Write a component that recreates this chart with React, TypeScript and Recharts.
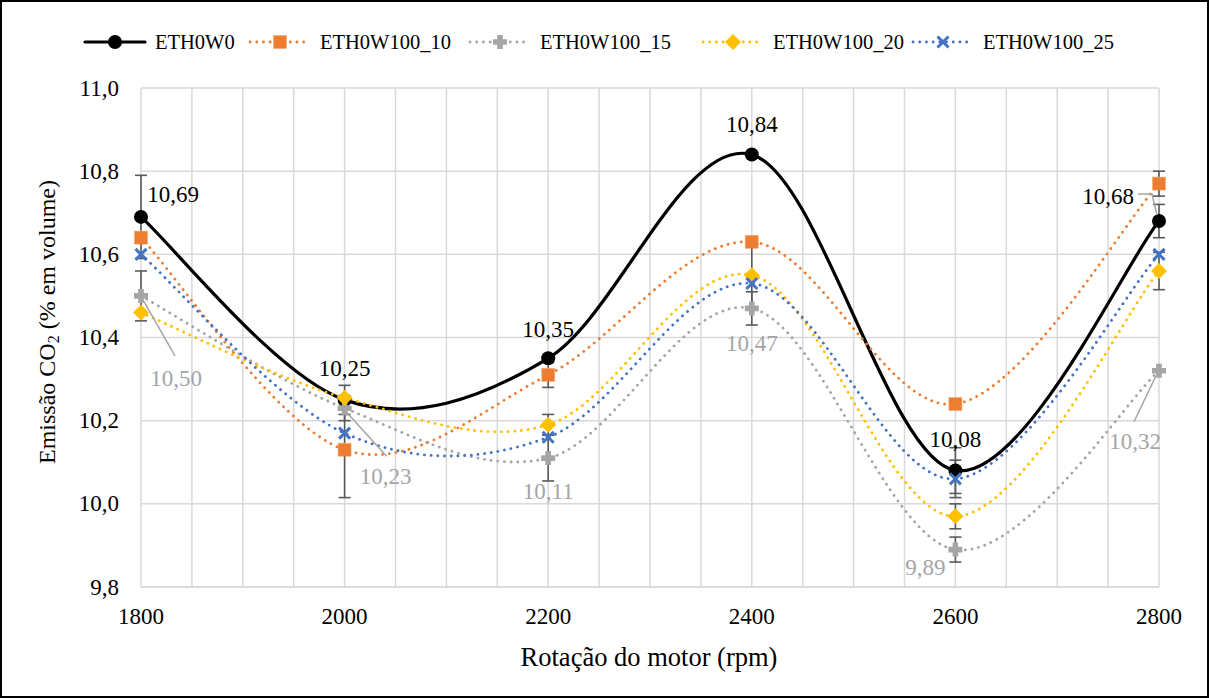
import React from 'react';
import { LineChart, Line, XAxis, YAxis, CartesianGrid, ErrorBar, LabelList } from 'recharts';

// Engine speed (rpm)
const rpm = [1800, 2000, 2200, 2400, 2600, 2800];

// CO2 emission (% by volume) per fuel blend
const eth0w0 = [10.69, 10.25, 10.35, 10.84, 10.08, 10.68];
const eth0w100_10 = [10.64, 10.13, 10.31, 10.63, 10.24, 10.77];
const eth0w100_15 = [10.5, 10.23, 10.11, 10.47, 9.89, 10.32];
const eth0w100_20 = [10.46, 10.255, 10.19, 10.55, 9.97, 10.56];
const eth0w100_25 = [10.6, 10.17, 10.16, 10.53, 10.06, 10.6];

// Error bar half-widths (null = no bar)
const eth0w0Err = [0.1, 0.035, null, null, 0.055, 0.04];
const eth0w100_10Err = [null, 0.115, 0.03, null, null, 0.03];
const eth0w100_15Err = [0.06, 0.03, 0.055, 0.04, 0.03, null];
const eth0w100_20Err = [null, null, 0.025, 0.08, 0.03, 0.045];
const eth0w100_25Err = [null, null, null, null, 0.045, null];

const seriesNames = ['ETH0W0', 'ETH0W100_10', 'ETH0W100_15', 'ETH0W100_20', 'ETH0W100_25'];

const xTicks = [1800, 1850, 1900, 1950, 2000, 2050, 2100, 2150, 2200, 2250, 2300, 2350, 2400, 2450, 2500, 2550, 2600, 2650, 2700, 2750, 2800];
const yTicks = [9.8, 10.0, 10.2, 10.4, 10.6, 10.8, 11.0];

const data = rpm.map((r, i) => ({
  rpm: r,
  s0: eth0w0[i], e0: eth0w0Err[i],
  s1: eth0w100_10[i], e1: eth0w100_10Err[i],
  s2: eth0w100_15[i], e2: eth0w100_15Err[i],
  s3: eth0w100_20[i], e3: eth0w100_20Err[i],
  s4: eth0w100_25[i], e4: eth0w100_25Err[i],
}));

const FONT = "'Times New Roman', 'Liberation Serif', 'DejaVu Serif', serif";
const fontStyle = { fontFamily: FONT };
const COLORS = ['#000000', '#ED7D31', '#A5A5A5', '#FFC000', '#4472C4'];
const GRAY_LABEL = '#A5A5A5';
const ERR_COLOR = '#595959';

// Smoothed line: Catmull-Rom segments drawn as cubic Beziers
const smoothCurve: any = (context: any) => {
  let pts: number[][] = [];
  return {
    areaStart() {},
    areaEnd() {},
    lineStart() {
      pts = [];
    },
    point(x: number, y: number) {
      pts.push([+x, +y]);
    },
    lineEnd() {
      if (!pts.length) return;
      context.moveTo(pts[0][0], pts[0][1]);
      for (let i = 0; i < pts.length - 1; i++) {
        const p0 = pts[i - 1] || pts[i];
        const p1 = pts[i];
        const p2 = pts[i + 1];
        const p3 = pts[i + 2] || p2;
        context.bezierCurveTo(
          p1[0] + (p2[0] - p0[0]) / 6,
          p1[1] + (p2[1] - p0[1]) / 6,
          p2[0] - (p3[0] - p1[0]) / 6,
          p2[1] - (p3[1] - p1[1]) / 6,
          p2[0],
          p2[1]
        );
      }
    },
  };
};

type MarkerKind = 'circle' | 'square' | 'plus' | 'diamond' | 'cross';
const MARKERS: MarkerKind[] = ['circle', 'square', 'plus', 'diamond', 'cross'];

function Marker({ kind, cx, cy, color }: { kind: MarkerKind; cx: number; cy: number; color: string }) {
  if (kind === 'circle') return <circle cx={cx} cy={cy} r={7} fill={color} />;
  if (kind === 'square')
    return <rect x={cx - 6.5} y={cy - 6.5} width={13} height={13} fill={color} stroke="#F4A46E" strokeWidth={1} strokeDasharray="1.5 1.5" />;
  if (kind === 'plus') {
    const a = 2.8;
    const b = 7;
    const pts = [
      [-a, -b], [a, -b], [a, -a], [b, -a], [b, a], [a, a], [a, b], [-a, b], [-a, a], [-b, a], [-b, -a], [-a, -a],
    ]
      .map(([dx, dy]) => `${cx + dx},${cy + dy}`)
      .join(' ');
    return <polygon points={pts} fill={color} />;
  }
  if (kind === 'diamond') {
    const r = 8;
    return <polygon points={`${cx},${cy - r} ${cx + r},${cy} ${cx},${cy + r} ${cx - r},${cy}`} fill={color} />;
  }
  const r = 5.5;
  return (
    <g stroke={color} strokeWidth={3}>
      <line x1={cx - r} y1={cy - r} x2={cx + r} y2={cy + r} />
      <line x1={cx - r} y1={cy + r} x2={cx + r} y2={cy - r} />
    </g>
  );
}

const makeDot = (s: number) => (props: any) => {
  const { cx, cy, index } = props;
  if (cx == null || cy == null) return <g key={`d${s}-${index}`} />;
  return (
    <g key={`d${s}-${index}`}>
      <Marker kind={MARKERS[s]} cx={cx} cy={cy} color={COLORS[s]} />
    </g>
  );
};

// Label placement relative to each point, and leader lines
const blackLabelOffsets = [[32, -22], [0, -31], [0, -29], [0, -30], [0, -31], [-51, -25]];
const blackLeaders: (number[][] | null)[] = [null, null, null, null, null, [[-21, -27], [-7, -27], [-2, -6]]];
const grayLabelOffsets = [[35, 83], [41, 68], [0, 33], [0, 35], [-30, 18], [-24, 71]];
const grayLeaders: (number[][] | null)[] = [
  [[2, 4], [34, 60]],
  [[2, 4], [42, 48]],
  null,
  null,
  null,
  [[-3, 5], [-25, 51]],
];

// Legend item left edges
const legendLefts = [82, 247, 467, 700, 910];

const makeLabel = (color: string, offsets: number[][], leaders: (number[][] | null)[]) => (p: any) => {
  const x = p.x ?? p.viewBox?.x;
  const y = p.y ?? p.viewBox?.y;
  const i = p.index;
  if (x == null || y == null || p.value == null) return null;
  const [dx, dy] = offsets[i];
  const leader = leaders[i];
  const txt = Number(p.value).toFixed(2).replace('.', ',');
  return (
    <g key={`lbl-${color}-${i}`}>
      {leader && (
        <polyline
          points={leader.map(([lx, ly]) => `${x + lx},${y + ly}`).join(' ')}
          fill="none"
          stroke="#A5A5A5"
          strokeWidth={1.5}
        />
      )}
      <text x={x + dx} y={y + dy} textAnchor="middle" dominantBaseline="central" style={fontStyle} fontSize={23} fill={color}>
        {txt}
      </text>
    </g>
  );
};

const XTick = (props: any) => {
  const { x, y, payload } = props;
  if (payload.value % 200 !== 0) return <g />;
  return (
    <text x={x} y={y + 29} textAnchor="middle" dominantBaseline="central" style={fontStyle} fontSize={23} fill="#000">
      {payload.value}
    </text>
  );
};

const YTick = (props: any) => {
  const { x, y, payload } = props;
  return (
    <text x={x - 22} y={y} textAnchor="end" dominantBaseline="central" style={fontStyle} fontSize={23} fill="#000">
      {Number(payload.value).toFixed(1).replace('.', ',')}
    </text>
  );
};

function LegendIcon({ s }: { s: number }) {
  const dotted = s > 0;
  return (
    <svg width={66} height={20} style={{ display: 'block' }}>
      <line
        x1={3}
        y1={10}
        x2={63}
        y2={10}
        stroke={COLORS[s]}
        strokeWidth={dotted ? 2.8 : 3.2}
        strokeLinecap="round"
        strokeDasharray={dotted ? '0.1 6.6' : undefined}
      />
      <Marker kind={MARKERS[s]} cx={33} cy={10} color={COLORS[s]} />
    </svg>
  );
}

function ChartLegend() {
  return (
    <div style={{ position: 'absolute', left: 0, top: 30, width: 1209, height: 24, fontFamily: FONT, fontSize: 20.5, color: '#000' }}>
      {seriesNames.map((n, s) => (
        <div
          key={n}
          style={{ position: 'absolute', left: legendLefts[s], top: 0, height: 24, display: 'flex', alignItems: 'center', whiteSpace: 'nowrap' }}
        >
          <LegendIcon s={s} />
          <span style={{ marginLeft: 7 }}>{n}</span>
        </div>
      ))}
    </div>
  );
}

export default function App() {
  const lines = [0, 1, 2, 3, 4];
  return (
    <div style={{ position: 'absolute', left: 0, top: 0, width: 1209, height: 698, background: '#fff', fontFamily: FONT }}>
      <LineChart width={1209} height={698} data={data} margin={{ top: 88, right: 50, bottom: 0, left: 0 }} style={fontStyle}>
        <CartesianGrid stroke="#D9D9D9" strokeWidth={1.5} />
        <XAxis
          type="number"
          dataKey="rpm"
          domain={[1800, 2800]}
          ticks={xTicks}
          interval={0}
          tickLine={false}
          tickSize={0}
          tickMargin={0}
          axisLine={{ stroke: '#D9D9D9', strokeWidth: 1.5 }}
          tick={<XTick />}
          height={111}
        />
        <YAxis
          type="number"
          domain={[9.8, 11.0]}
          ticks={yTicks}
          interval={0}
          tickLine={false}
          tickSize={0}
          tickMargin={0}
          axisLine={false}
          tick={<YTick />}
          width={141}
        />
        {lines.map((s) => (
          <Line
            key={s}
            dataKey={`s${s}`}
            name={seriesNames[s]}
            type={smoothCurve}
            stroke={COLORS[s]}
            strokeWidth={s === 0 ? 3.2 : 2.8}
            strokeLinecap="round"
            strokeDasharray={s === 0 ? undefined : '0.1 6.6'}
            dot={makeDot(s)}
            activeDot={false}
            isAnimationActive={false}
          >
            <ErrorBar dataKey={`e${s}`} direction="y" width={6} stroke={ERR_COLOR} strokeWidth={1.6} />
            {s === 0 && <LabelList dataKey="s0" content={makeLabel('#000', blackLabelOffsets, blackLeaders)} />}
            {s === 2 && <LabelList dataKey="s2" content={makeLabel(GRAY_LABEL, grayLabelOffsets, grayLeaders)} />}
          </Line>
        ))}
        <text x={47} y={322} transform="rotate(-90 47 322)" textAnchor="middle" dominantBaseline="central" style={fontStyle} fontSize={24} fill="#000">
          Emissão CO
          <tspan fontSize={16} dy={6}>2</tspan>
          <tspan dy={-6}> (% em volume)</tspan>
        </text>
        <text x={649} y={657} textAnchor="middle" dominantBaseline="central" style={fontStyle} fontSize={26.5} fill="#000">
          Rotação do motor (rpm)
        </text>
      </LineChart>
      <ChartLegend />
      <div style={{ position: 'absolute', inset: 0, border: '2px solid #000', boxSizing: 'border-box', pointerEvents: 'none' }} />
    </div>
  );
}
